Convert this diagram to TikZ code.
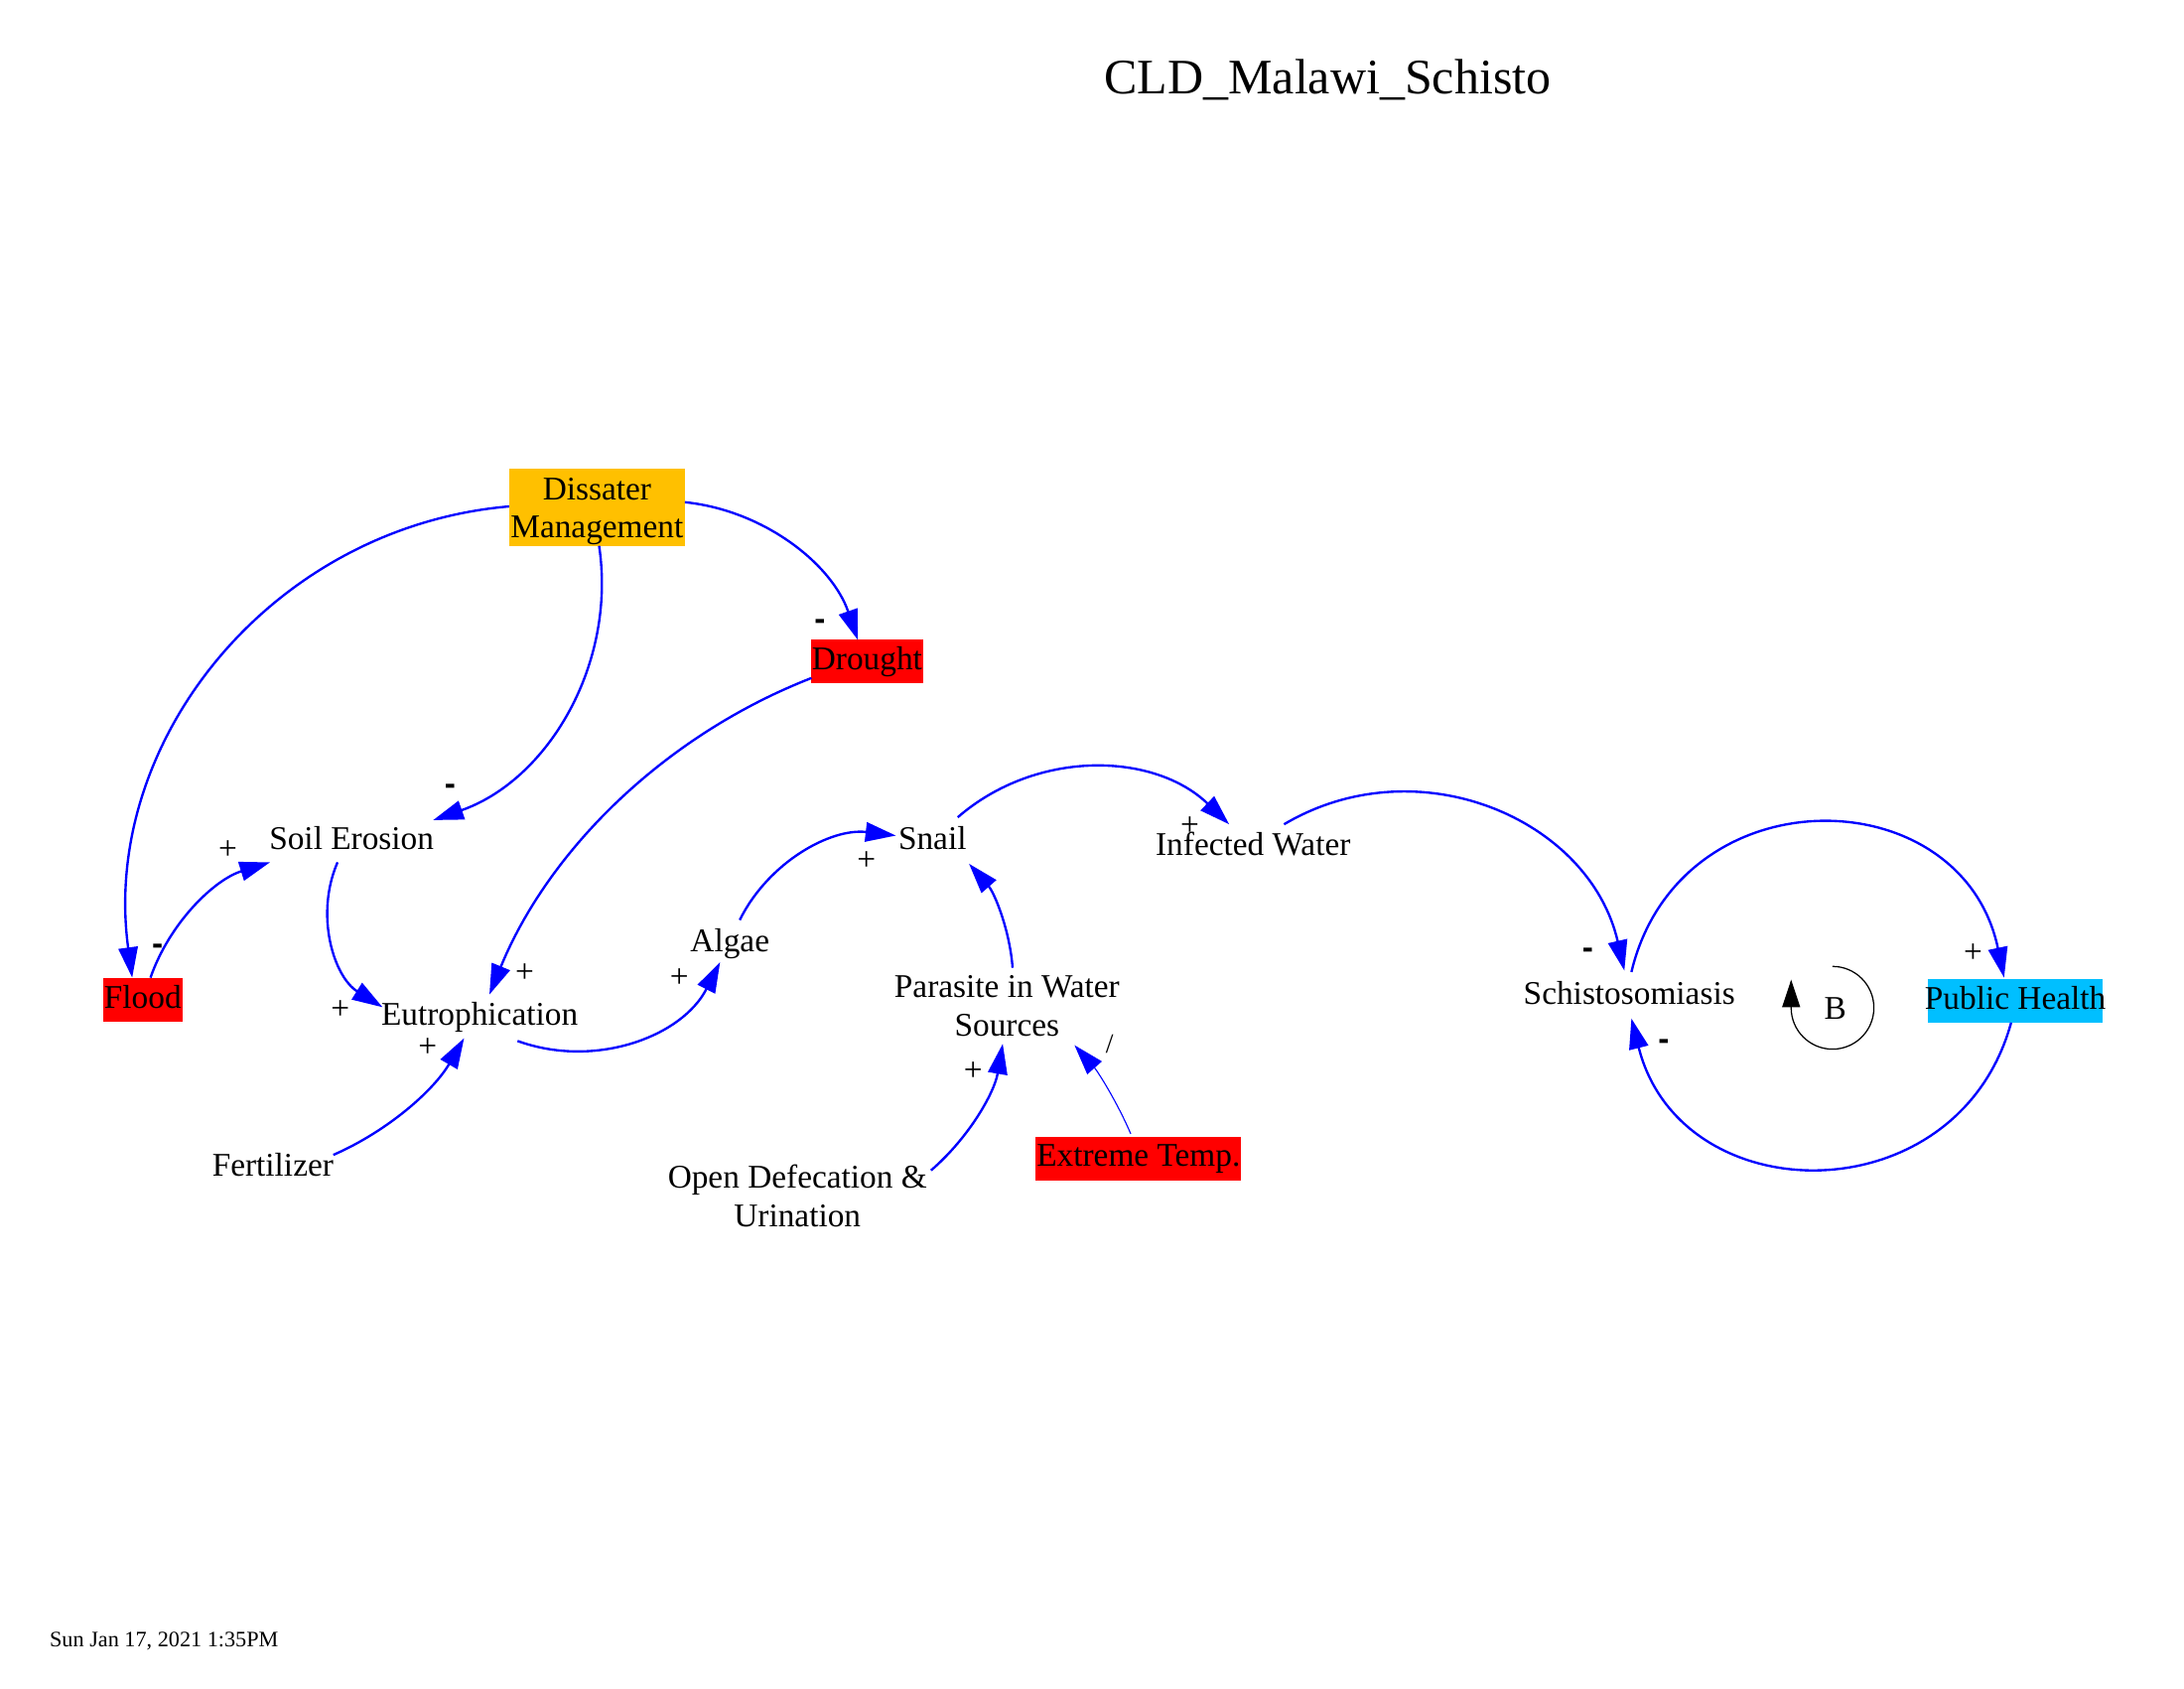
\documentclass[tikz,border=0pt]{standalone}
\usepackage{fontspec}
\setmainfont{Liberation Serif}
\newfontfamily\signfont{Liberation Sans}
\usetikzlibrary{arrows.meta,calc}
\definecolor{dmorange}{RGB}{255,192,0}
\definecolor{hotred}{RGB}{255,0,0}
\definecolor{phcyan}{RGB}{0,191,255}
\definecolor{linkblue}{RGB}{0,0,255}
\begin{document}
\begin{tikzpicture}[x=0.51pt,y=-0.51pt,
  var/.style={font=\fontsize{12}{14}\selectfont, inner sep=0pt, align=center, text height=8.5pt, text depth=2.5pt},
  twoline/.style={font=\fontsize{12}{14}\selectfont, inner sep=0pt, align=center},
  boxed/.style={var, inner xsep=0.4pt, minimum height=15.8pt},
  link/.style={draw=linkblue, line width=0.85pt, -{Triangle[length=11pt,width=7pt]}},
  thinlink/.style={link, line width=0.4pt},
  plus/.style={font=\fontsize{12}{12}\selectfont, inner sep=0pt},
  minus/.style={font=\signfont\bfseries\fontsize{12}{12}\selectfont, inner sep=0pt},
  slash/.style={font=\fontsize{10}{10}\selectfont, inner sep=0pt},
  loopmark/.style={draw=black, line width=0.45pt, -{Triangle[length=10pt,width=6.5pt]}}
]
\useasboundingbox (0,0) rectangle (1552.94,1200);
\fill[white] (0,0) rectangle (1552.94,1200);

% title and date
\node[font=\fontsize{18}{20}\selectfont, inner sep=0pt] (title) at (944,57) {CLD\_Malawi\_Schisto};
\node[font=\fontsize{8}{9}\selectfont, inner sep=0pt, anchor=west] (date) at (35,1167) {Sun Jan 17, 2021 1:35PM};

% variables
\node[twoline, fill=dmorange, inner xsep=0.4pt, minimum height=28pt, font=\fontsize{12}{13.8}\selectfont] (DM) at (424.5,360.5) {\rule{0pt}{11pt}Dissater\\Management};
\node[boxed, fill=hotred] (Dr) at (616.5,470) {Drought};
\node[var] (SE) at (250,598) {Soil Erosion};
\node[boxed, fill=hotred, minimum width=29pt] (Fl) at (101.5,711) {Flood};
\node[var] (Eu) at (341,723) {Eutrophication};
\node[var] (Fe) at (194,830) {Fertilizer};
\node[var] (Al) at (519,671) {Algae};
\node[var] (Sn) at (663,598) {Snail};
\node[var] (IW) at (891,602) {Infected Water};
\node[twoline] (PW) at (716,715) {Parasite in Water\\Sources};
\node[twoline] (OD) at (567,850) {Open Defecation \&\\Urination};
\node[boxed, fill=hotred] (ET) at (809.5,823.5) {Extreme Temp.};
\node[var] (Sc) at (1158.5,708) {Schistosomiasis};
\node[boxed, fill=phcyan, inner xsep=-1.2pt] (PH) at (1433,711.5) {Public Health};

% links
\draw[link] ([shift={(-62.5,-0.5)}]DM.center) .. controls +(-168.8,14.6) and +(-22.8,-167.9) .. ([shift={(-7.5,-16)}]Fl.center);
\draw[link] ([shift={(1.5,27.5)}]DM.center) .. controls +(12.6,84.9) and +(81,-28.2) .. ([shift={(58,-15)}]SE.center);
\draw[link] ([shift={(62.5,-3.5)}]DM.center) .. controls +(56.6,5.9) and +(-18.4,-53.8) .. ([shift={(-6.5,-15)}]Dr.center);
\draw[link] ([shift={(-39.5,12)}]Dr.center) .. controls +(-104,40.5) and +(42.4,-103.3) .. ([shift={(7,-16)}]Eu.center);
\draw[link] ([shift={(5.5,-16)}]Fl.center) .. controls +(13.7,-39.2) and +(-39.6,12.3) .. ([shift={(-58,15)}]SE.center);
\draw[link] ([shift={(-10,15)}]SE.center) .. controls +(-16.3,37.5) and +(-34.7,-21.7) .. ([shift={(-69,-7)}]Eu.center);
\draw[link] ([shift={(43,-9)}]Fe.center) .. controls +(39.1,-17.1) and +(-21.4,36.9) .. ([shift={(-11,15)}]Eu.center);
\draw[link] ([shift={(27,17)}]Eu.center) .. controls +(55,20) and +(-27,53) .. ([shift={(-7,13)}]Al.center);
\draw[link] ([shift={(7,-17)}]Al.center) .. controls +(20.6,-41.5) and +(-46,-5.5) .. ([shift={(-26,-4)}]Sn.center);
\draw[link] ([shift={(18,-17)}]Sn.center) .. controls +(56,-48.6) and +(-53.5,-51.4) .. ([shift={(-17,-16)}]IW.center);
\draw[link] ([shift={(22,-16)}]IW.center) .. controls +(95.2,-56.4) and +(-24.6,-107.8) .. ([shift={(-3.5,-18)}]Sc.center);
\draw[link] ([shift={(4,-27)}]PW.center) .. controls +(-2.1,-27.3) and +(18,20.6) .. ([shift={(26,16)}]Sn.center);
\draw[link] ([shift={(95,-18)}]OD.center) .. controls +(26.9,-23.2) and +(-6,35) .. ([shift={(-3,27)}]PW.center);
\draw[thinlink] ([shift={(-5.5,-17.5)}]ET.center) .. controls +(-9.8,-22.9) and +(16.5,18.6) .. ([shift={(48,28)}]PW.center);
\draw[link] ([shift={(1.5,-17)}]Sc.center) .. controls +(34,-142) and +(-30,-143) .. ([shift={(-8,-16.5)}]PH.center);
\draw[link] ([shift={(-3,15.5)}]PH.center) .. controls +(-38,138) and +(35,139) .. ([shift={(1.5,16)}]Sc.center);

% polarities
\node[minus] (s1) at (112,675) {-};
\node[plus] (s2) at (162,604) {+};
\node[minus] (s3) at (320,561) {-};
\node[minus] (s4) at (583,444) {-};
\node[plus] (s5) at (373,692) {+};
\node[plus] (s6) at (242,718) {+};
\node[plus] (s7) at (304,745) {+};
\node[plus] (s8) at (483,695) {+};
\node[plus] (s9) at (616,612) {+};
\node[plus] (s10) at (846,587) {+};
\node[minus] (s11) at (1129,678) {-};
\node[plus] (s12) at (692,762) {+};
\node[slash] (s13) at (789,742) {/};
\node[plus] (s14) at (1403,678) {+};
\node[minus] (s15) at (1183,743) {-};

% loop marker
\node[font=\fontsize{12}{12}\selectfont, inner sep=0pt] (B) at (1305,717) {B};
\coordinate (Btop) at (1303,687);
\draw[loopmark] (Btop) arc[start angle=90, end angle=-180, radius=15pt] -- ++(0,-20);
\end{tikzpicture}
\end{document}
